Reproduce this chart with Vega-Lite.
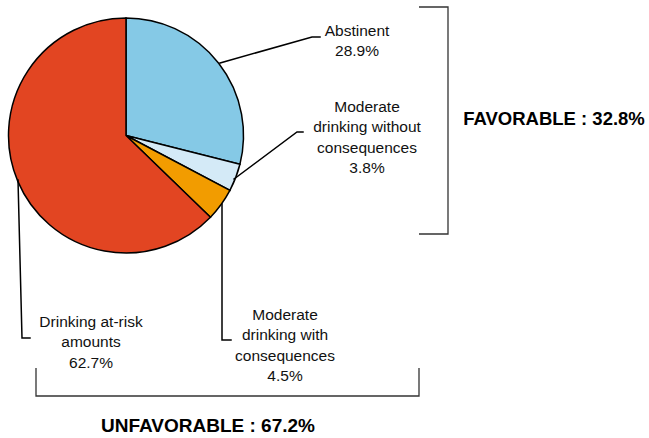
{
  "$schema": "https://vega.github.io/schema/vega-lite/v6.json",
  "width": 649,
  "height": 438,
  "padding": 0,
  "autosize": {"type": "fit", "contains": "padding"},
  "background": "white",
  "config": {"view": {"stroke": null}, "font": "Liberation Sans"},
  "datasets": {
    "slices": [
      {"category": "Abstinent", "share": 28.9, "order": 1},
      {"category": "Moderate drinking without consequences", "share": 3.8, "order": 2},
      {"category": "Moderate drinking with consequences", "share": 4.5, "order": 3},
      {"category": "Drinking at-risk amounts", "share": 62.7, "order": 4}
    ],
    "leaders": [
      {"g": "a", "o": 1, "x": 220, "y": 63}, {"g": "a", "o": 2, "x": 312, "y": 37}, {"g": "a", "o": 3, "x": 320, "y": 37},
      {"g": "b", "o": 1, "x": 234, "y": 179}, {"g": "b", "o": 2, "x": 297, "y": 132}, {"g": "b", "o": 3, "x": 303, "y": 132},
      {"g": "c", "o": 1, "x": 222, "y": 204}, {"g": "c", "o": 2, "x": 222, "y": 340}, {"g": "c", "o": 3, "x": 231, "y": 340},
      {"g": "d", "o": 1, "x": 18, "y": 180}, {"g": "d", "o": 2, "x": 22, "y": 338}, {"g": "d", "o": 3, "x": 30, "y": 338}
    ],
    "brackets": [
      {"g": "e", "o": 1, "x": 36, "y": 368}, {"g": "e", "o": 2, "x": 36, "y": 396}, {"g": "e", "o": 3, "x": 419, "y": 396}, {"g": "e", "o": 4, "x": 419, "y": 368},
      {"g": "f", "o": 1, "x": 419, "y": 7}, {"g": "f", "o": 2, "x": 448, "y": 7}, {"g": "f", "o": 3, "x": 448, "y": 234}, {"g": "f", "o": 4, "x": 419, "y": 234}
    ],
    "labels": [
      {"label": "Abstinent\n28.9%", "x": 357, "y": 31},
      {"label": "Moderate\ndrinking without\nconsequences\n3.8%", "x": 367, "y": 107},
      {"label": "Moderate\ndrinking with\nconsequences\n4.5%", "x": 285, "y": 315},
      {"label": "Drinking at-risk\namounts\n62.7%", "x": 91, "y": 322}
    ],
    "totals": [
      {"label": "FAVORABLE : 32.8%", "x": 554, "y": 119, "size": 18.5},
      {"label": "UNFAVORABLE : 67.2%", "x": 208, "y": 426, "size": 19}
    ]
  },
  "layer": [
    {
      "data": {"name": "slices"},
      "mark": {"type": "arc", "outerRadius": 117.5, "stroke": "black", "strokeWidth": 1.5},
      "encoding": {
        "x": {"datum": 126, "type": "quantitative", "scale": {"domain": [0, 649], "nice": false, "zero": false}, "axis": null},
        "y": {"datum": 135.5, "type": "quantitative", "scale": {"domain": [0, 438], "nice": false, "zero": false, "reverse": true}, "axis": null},
        "theta": {"field": "share", "type": "quantitative", "stack": true},
        "order": {"field": "order", "type": "quantitative"},
        "color": {
          "field": "category", "type": "nominal", "legend": null,
          "scale": {
            "domain": ["Abstinent", "Moderate drinking without consequences", "Moderate drinking with consequences", "Drinking at-risk amounts"],
            "range": ["#85C9E6", "#D4EAF7", "#F29C00", "#E24522"]
          }
        }
      }
    },
    {
      "data": {"name": "leaders"},
      "mark": {"type": "line", "color": "black", "strokeWidth": 1.5, "strokeCap": "square"},
      "encoding": {
        "x": {"field": "x", "type": "quantitative"},
        "y": {"field": "y", "type": "quantitative"},
        "detail": {"field": "g"},
        "order": {"field": "o"}
      }
    },
    {
      "data": {"name": "brackets"},
      "mark": {"type": "line", "color": "#333333", "strokeWidth": 1.3},
      "encoding": {
        "x": {"field": "x", "type": "quantitative"},
        "y": {"field": "y", "type": "quantitative"},
        "detail": {"field": "g"},
        "order": {"field": "o"}
      }
    },
    {
      "data": {"name": "labels"},
      "mark": {"type": "text", "fontSize": 15.5, "lineHeight": 20.3, "lineBreak": "\n", "align": "center", "baseline": "middle", "color": "#111111"},
      "encoding": {
        "x": {"field": "x", "type": "quantitative"},
        "y": {"field": "y", "type": "quantitative"},
        "text": {"field": "label"}
      }
    },
    {
      "data": {"name": "totals"},
      "mark": {"type": "text", "fontWeight": "bold", "align": "center", "baseline": "middle", "color": "black"},
      "encoding": {
        "x": {"field": "x", "type": "quantitative"},
        "y": {"field": "y", "type": "quantitative"},
        "text": {"field": "label"},
        "size": {"field": "size", "type": "quantitative", "scale": null}
      }
    }
  ]
}
